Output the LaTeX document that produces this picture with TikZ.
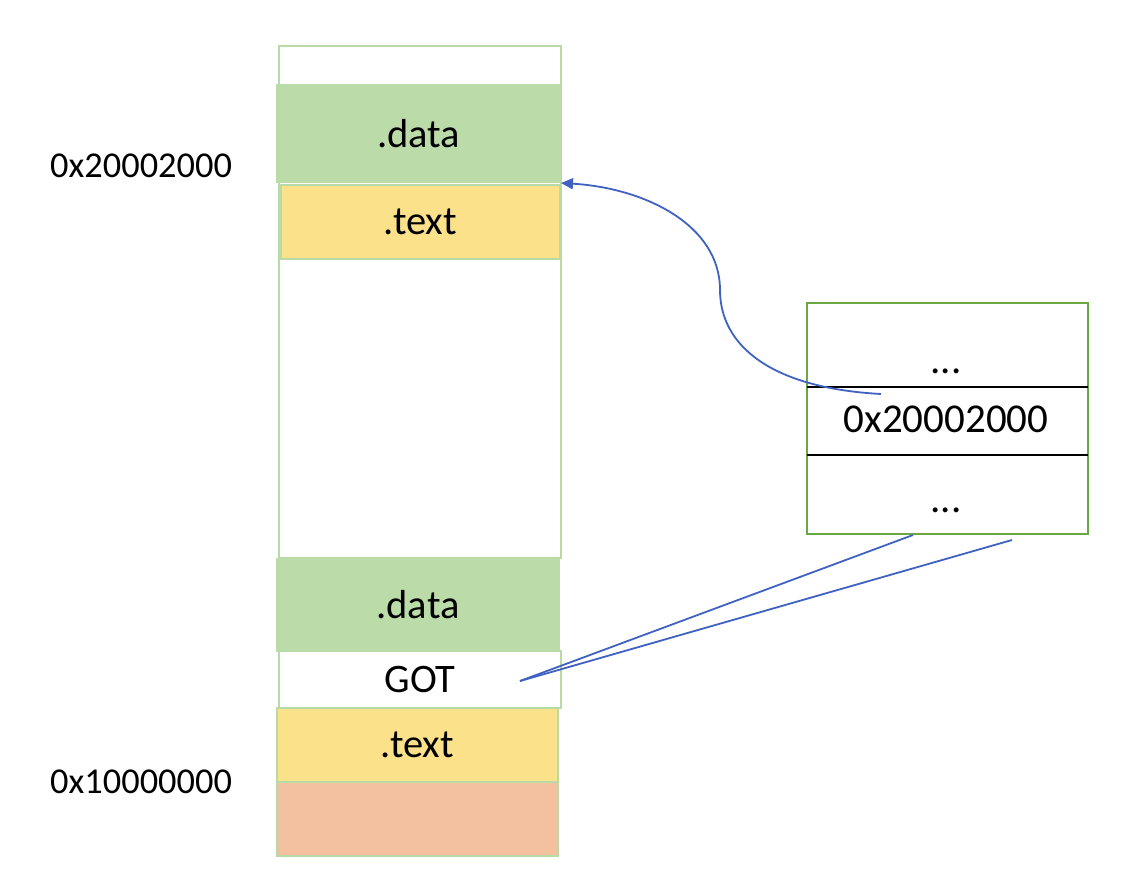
\documentclass[tikz,border=0pt]{standalone}
\usepackage{fontspec}
\setmainfont{Carlito}
\usetikzlibrary{arrows.meta}
\definecolor{segGreen}{HTML}{BBDBA8}
\definecolor{segYellow}{HTML}{FCE18B}
\definecolor{segSalmon}{HTML}{F3C0A0}
\definecolor{segEdge}{HTML}{B8DBA5}
\definecolor{boxEdge}{HTML}{6AA845}
\definecolor{linkBlue}{HTML}{3F62C2}
\begin{document}
\begin{tikzpicture}[x=1pt,y=-1pt,
  seg/.style={rectangle, inner sep=0pt, outer sep=0pt, anchor=north west,
    line width=1.6pt, font=\fontsize{40.5}{48}\selectfont, text=black},
  addr/.style={inner sep=0pt, anchor=base west, font=\fontsize{36.4}{44}\selectfont},
  cell/.style={inner sep=0pt, anchor=base, font=\fontsize{41}{49}\selectfont},
  link/.style={draw=linkBlue, line width=1.8pt}]
\useasboundingbox (0,0) rectangle (1130,880);
% upper column
\node[seg, draw=segEdge, fill=white, minimum width=282pt, minimum height=512pt] (col) at (279,46) {};
\node[seg, fill=segGreen, minimum width=285pt, minimum height=99pt] (data1) at (276,84) {.data};
\node[seg, draw=segEdge, fill=segYellow, minimum width=279pt, minimum height=74pt] (text1) at (281,185) {.text};
% lower column
\node[seg, fill=segGreen, minimum width=284pt, minimum height=94pt] (data2) at (276,558) {.data};
\node[seg, draw=segEdge, fill=white, minimum width=282pt, minimum height=57pt] (got) at (279,651) {GOT};
\node[seg, draw=segEdge, fill=segYellow, minimum width=281pt, minimum height=74pt] (text2) at (277,708) {.text};
\node[seg, draw=segEdge, fill=segSalmon, minimum width=281pt, minimum height=74pt] (base) at (277,782) {};
% address labels
\node[addr] (lbl1) at (50,177) {0x20002000};
\node[addr] (lbl2) at (50,793) {0x10000000};
% right memory box
\node[seg, draw=boxEdge, line width=2.2pt, minimum width=281pt, minimum height=231pt] (mem) at (807,303) {};
\draw[line width=1.9pt] (mem.west |- 0,387) coordinate (s1w) -- (mem.east |- 0,387) coordinate (s1e);
\draw[line width=1.9pt] (mem.west |- 0,455) coordinate (s2w) -- (mem.east |- 0,455) coordinate (s2e);
\node[cell] (row1) at (946,373) {...};
\node[cell] (row2) at (946,432) {0x20002000};
\node[cell] (row3) at (946,512) {...};
% connectors
\coordinate (gotp) at (520,681);
\coordinate (e1) at (913,535);
\coordinate (e2) at (1012,540);
\draw[link] (gotp) -- (e1);
\draw[link] (gotp) -- (e2);
\coordinate (cs) at (881,394);
\coordinate (cm) at (720,290);
\coordinate (tip) at (561,183);
\draw[link, -{Triangle[length=12pt,width=11pt]}] (cs) .. controls (770,388) and (720,345) .. (cm) .. controls (720,225) and (645,188) .. (tip);
\end{tikzpicture}
\end{document}
